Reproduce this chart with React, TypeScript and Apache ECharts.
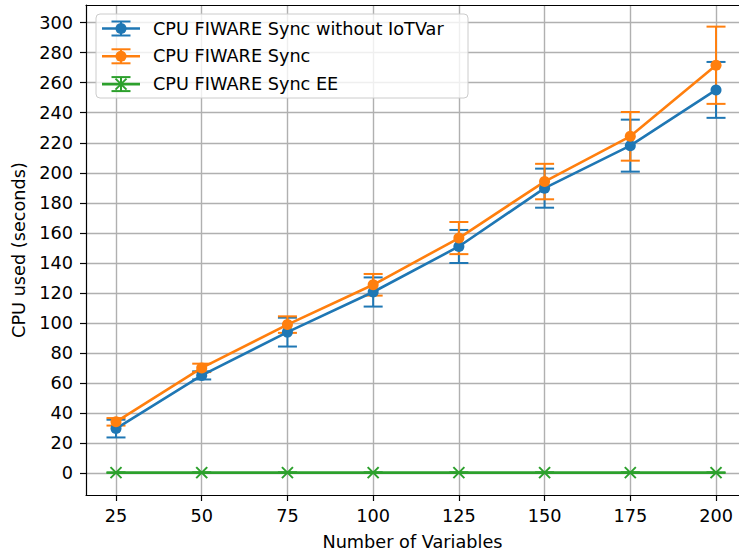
import React, { useEffect, useRef } from "react";
import * as echarts from "echarts";

const xValues = [25, 50, 75, 100, 125, 150, 175, 200];
const yTicks = [0, 20, 40, 60, 80, 100, 120, 140, 160, 180, 200, 220, 240, 260, 280, 300];

const syncNoIoTVar = [29.8, 65.2, 94, 120.7, 151, 189.8, 218.1, 255.2];
const syncNoIoTVarErr = [5.9, 2.7, 9.6, 9.7, 11, 13, 17.3, 18.6];

const sync = [34.3, 70.2, 99, 125.5, 156.6, 194.2, 224.3, 271.6];
const syncErr = [2.5, 2.8, 5.5, 7.2, 10.7, 11.8, 16.2, 25.7];

const syncEE = [0.5, 0.5, 0.5, 0.5, 0.5, 0.5, 0.5, 0.5];
const syncEEErr = [0.2, 0.2, 0.2, 0.2, 0.2, 0.2, 0.2, 0.2];

const seriesNames = ["CPU FIWARE Sync without IoTVar", "CPU FIWARE Sync", "CPU FIWARE Sync EE"];
const BLUE = "#1f77b4";
const ORANGE = "#ff7f0e";
const GREEN = "#2ca02c";
const FONT = "DejaVu Sans";
const FS = 17.7;
const CAP = 9.5;
const X_MIN = 16.25;
const X_MAX = 206.7;
const Y_MIN = -14.4;
const Y_MAX = 311.7;

function errSeries(vals: number[], errs: number[], color: string, cross: boolean) {
  return {
    type: "custom",
    silent: true,
    data: xValues.map((x, i) => [x, vals[i] - errs[i], vals[i] + errs[i], vals[i]]),
    encode: { x: 0, y: [1, 2] },
    renderItem: (params: any, api: any) => {
      const x = api.value(0);
      const lo = api.coord([x, api.value(1)]);
      const hi = api.coord([x, api.value(2)]);
      const c = api.coord([x, api.value(3)]);
      const st = { stroke: color, lineWidth: 2 };
      const children: any[] = [
        { type: "line", shape: { x1: lo[0], y1: lo[1], x2: hi[0], y2: hi[1] }, style: st },
        { type: "line", shape: { x1: lo[0] - CAP, y1: lo[1], x2: lo[0] + CAP, y2: lo[1] }, style: st },
        { type: "line", shape: { x1: hi[0] - CAP, y1: hi[1], x2: hi[0] + CAP, y2: hi[1] }, style: st },
      ];
      if (cross) {
        const s = 5.5;
        children.push(
          { type: "line", shape: { x1: c[0] - s, y1: c[1] - s, x2: c[0] + s, y2: c[1] + s }, style: { stroke: color, lineWidth: 2 } },
          { type: "line", shape: { x1: c[0] - s, y1: c[1] + s, x2: c[0] + s, y2: c[1] - s }, style: { stroke: color, lineWidth: 2 } }
        );
      }
      return { type: "group", children };
    },
  };
}

function lineSeries(name: string, vals: number[], color: string, marker: boolean) {
  return {
    type: "line",
    name,
    data: xValues.map((x, i) => [x, vals[i]]),
    symbol: marker ? "circle" : "none",
    symbolSize: 11,
    showSymbol: marker,
    lineStyle: { color, width: 2.6 },
    itemStyle: { color },
    silent: true,
  };
}

function legendGraphics() {
  const colors = [BLUE, ORANGE, GREEN];
  const els: any[] = [
    {
      type: "rect",
      shape: { x: 96, y: 14, width: 372, height: 84, r: 4 },
      style: { fill: "rgba(255,255,255,0.8)", stroke: "#cccccc", lineWidth: 1 },
      z: 100,
    },
  ];
  seriesNames.forEach((name, i) => {
    const y = 28.5 + i * 27.8;
    const col = colors[i];
    const st = { stroke: col, lineWidth: 2 };
    els.push(
      { type: "line", shape: { x1: 102, y1: y, x2: 140, y2: y }, style: { stroke: col, lineWidth: 2.6 }, z: 101 },
      { type: "line", shape: { x1: 121, y1: y - 7, x2: 121, y2: y + 7 }, style: st, z: 101 },
      { type: "line", shape: { x1: 121 - CAP, y1: y - 7, x2: 121 + CAP, y2: y - 7 }, style: st, z: 101 },
      { type: "line", shape: { x1: 121 - CAP, y1: y + 7, x2: 121 + CAP, y2: y + 7 }, style: st, z: 101 }
    );
    if (i < 2) {
      els.push({ type: "circle", shape: { cx: 121, cy: y, r: 5.5 }, style: { fill: col }, z: 102 });
    } else {
      const s = 5.5;
      els.push(
        { type: "line", shape: { x1: 121 - s, y1: y - s, x2: 121 + s, y2: y + s }, style: st, z: 102 },
        { type: "line", shape: { x1: 121 - s, y1: y + s, x2: 121 + s, y2: y - s }, style: st, z: 102 }
      );
    }
    els.push({
      type: "text",
      x: 153,
      y: y,
      style: { text: name, fontSize: FS, fontFamily: FONT, fill: "#000", verticalAlign: "middle", align: "left" },
      z: 102,
    });
  });
  return els;
}

export default function App() {
  const ref = useRef<HTMLDivElement>(null);
  useEffect(() => {
    const chart = echarts.init(ref.current!, null, { renderer: "svg" });
    const axisText = { fontSize: FS, fontFamily: FONT, color: "#000" };
    const spine = { show: true, onZero: false, lineStyle: { color: "#000", width: 1.2 } };
    chart.setOption({
      animation: false,
      backgroundColor: "#ffffff",
      grid: {
        left: 86,
        top: 5,
        right: 0,
        bottom: 59.3,
        show: false,
      },
      xAxis: [
        {
          type: "value",
          position: "bottom",
          min: X_MIN,
          max: X_MAX,
          name: "Number of Variables",
          nameLocation: "middle",
          nameGap: 38,
          nameTextStyle: { fontSize: FS, fontFamily: FONT, color: "#000" },
          axisLine: spine,
          axisTick: { show: true, length: 6, inside: false, lineStyle: { color: "#000", width: 1.2 }, customValues: xValues },
          axisLabel: { ...axisText, margin: 12, customValues: xValues },
          splitLine: { show: true, lineStyle: { color: "#b0b0b0", width: 1.4 } },
        },
        {
          type: "value",
          position: "top",
          min: X_MIN,
          max: X_MAX,
          axisLine: spine,
          axisTick: { show: false },
          axisLabel: { show: false },
          splitLine: { show: false },
        },
      ],
      yAxis: {
        type: "value",
        position: "left",
        min: Y_MIN,
        max: Y_MAX,
        name: "CPU used (seconds)",
        nameLocation: "middle",
        nameGap: 55,
        nameRotate: 90,
        nameTextStyle: { fontSize: FS, fontFamily: FONT, color: "#000" },
        axisLine: spine,
        axisTick: { show: true, length: 6, inside: false, lineStyle: { color: "#000", width: 1.2 }, customValues: yTicks },
        axisLabel: { ...axisText, margin: 13, customValues: yTicks },
        splitLine: { show: true, lineStyle: { color: "#b0b0b0", width: 1.4 } },
      },
      series: [
        errSeries(syncNoIoTVar, syncNoIoTVarErr, BLUE, false),
        lineSeries(seriesNames[0], syncNoIoTVar, BLUE, true),
        errSeries(sync, syncErr, ORANGE, false),
        lineSeries(seriesNames[1], sync, ORANGE, true),
        lineSeries(seriesNames[2], syncEE, GREEN, false),
        errSeries(syncEE, syncEEErr, GREEN, true),
      ],
      graphic: legendGraphics(),
    });
    return () => chart.dispose();
  }, []);
  return <div ref={ref} style={{ position: "absolute", left: 0, top: 0, width: 739, height: 556 }} />;
}
